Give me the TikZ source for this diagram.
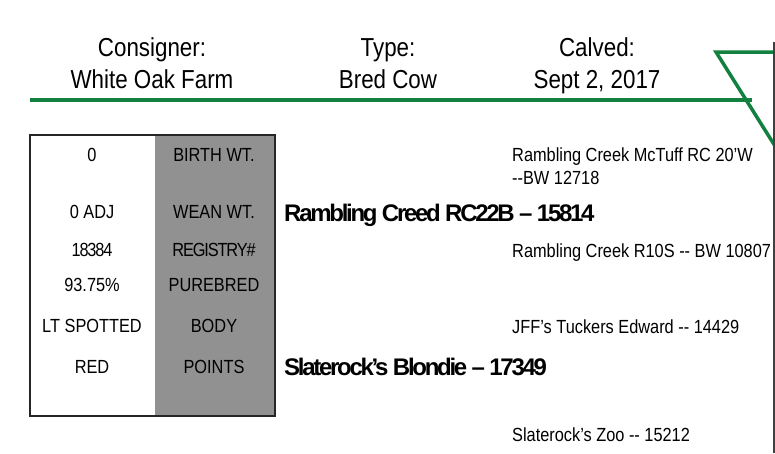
\documentclass[tikz,border=0pt]{standalone}
\usepackage{fontspec}
\setmainfont[FakeStretch=0.86]{Liberation Sans}
\newfontfamily\namefont[LetterSpace=-9.5]{Liberation Sans}
\definecolor{farmgreen}{RGB}{18,128,62}
\definecolor{boxgray}{RGB}{145,145,145}
\tikzset{
  head/.style={anchor=base, font=\fontsize{26}{32}\selectfont, inner sep=0pt},
  cell/.style={font=\fontsize{19}{22}\selectfont, inner sep=0pt},
  sire/.style={anchor=base west, font=\namefont\bfseries\fontsize{24}{28}\selectfont, inner sep=0pt},
  anc/.style={anchor=base west, align=left, font=\fontsize{19}{23}\selectfont, inner sep=0pt},
}
\begin{document}
\begin{tikzpicture}[x=1pt, y=-1pt]
  \useasboundingbox (0,0) rectangle (775,453);

  % header
  \node[head] (consigner) at (152,56) {Consigner:};
  \node[head] (consignerv) at (152,88) {White Oak Farm};
  \node[head] (type) at (388,56) {Type:};
  \node[head] (typev) at (388,88) {Bred Cow};
  \node[head] (calved) at (597,56) {Calved:};
  \node[head] (calvedv) at (597,88) {Sept 2, 2017};
  \draw[farmgreen, line width=4pt] (30,100) -- (752,100);
  \draw[farmgreen, line width=3.5pt] (775,52) -- (716,52) -- (775,146);
  \draw[black!75, line width=1.5pt] (774,42) -- (774,453);

  % data box
  \fill[boxgray] (155,135) rectangle (275,416);
  \draw[black!85, line width=2pt] (30,135) rectangle (275,416);
  \node[cell] (bw) at (92,155) {0};
  \node[cell] (bwl) at (214,155) {BIRTH WT.};
  \node[cell] (ww) at (92,212) {0 ADJ};
  \node[cell] (wwl) at (214,212) {WEAN WT.};
  \node[cell] (reg) at (92,250) {\addfontfeature{LetterSpace=-6}18384};
  \node[cell] (regl) at (214,250) {\addfontfeature{LetterSpace=-6}REGISTRY\#};
  \node[cell] (pb) at (92,285) {93.75\%};
  \node[cell] (pbl) at (214,285) {PUREBRED};
  \node[cell] (body) at (92,326) {LT SPOTTED};
  \node[cell] (bodyl) at (214,326) {BODY};
  \node[cell] (pts) at (92,367) {RED};
  \node[cell] (ptsl) at (214,367) {POINTS};

  % pedigree
  \node[sire] (sire) at (284,221) {Rambling Creed RC22B – 15814};
  \node[sire] (dam) at (284,375) {Slaterock’s Blondie – 17349};
  \node[anc] (ss) at (512,184) {Rambling Creek McTuff RC 20’W\\-{}-BW 12718};
  \node[anc] (sd) at (512,257) {Rambling Creek R10S -{}- BW 10807};
  \node[anc] (ds) at (512,333) {JFF’s Tuckers Edward -{}- 14429};
  \node[anc] (dd) at (512,441) {Slaterock’s Zoo -{}- 15212};
\end{tikzpicture}
\end{document}
